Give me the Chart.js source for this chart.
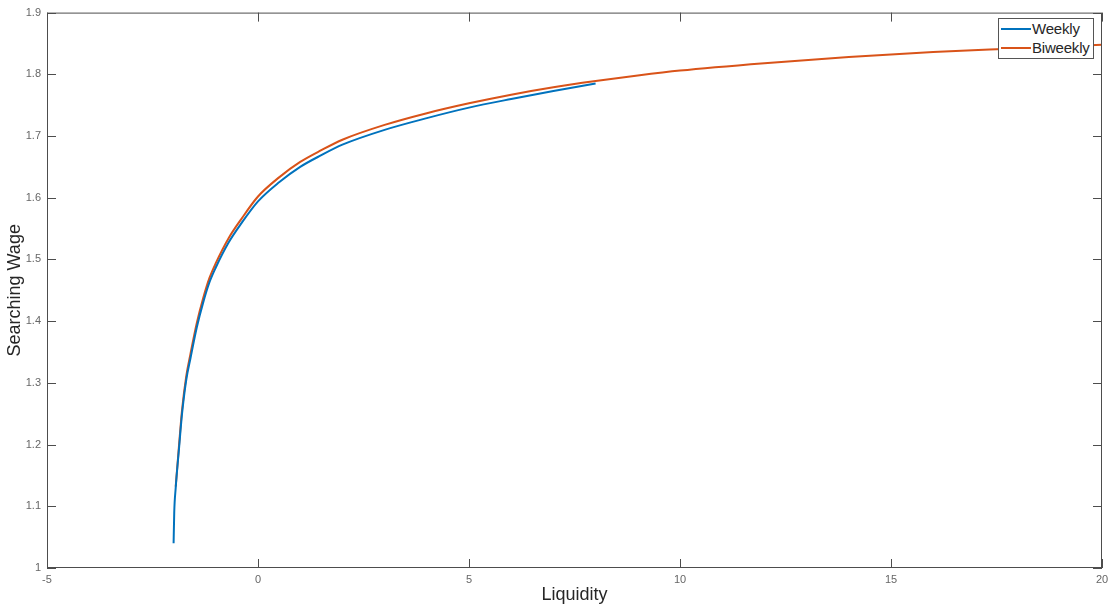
<!DOCTYPE html>
<html>
<head>
<meta charset="utf-8">
<script src="https://cdn.jsdelivr.net/npm/chart.js@4"></script>
<style>
  html, body { margin: 0; padding: 0; background: #fff; }
  #wrap { position: relative; width: 1117px; height: 610px; }
  #legend {
    position: absolute; left: 998px; top: 18px; width: 96px; height: 41px;
    background: #fff; border: 1px solid #555; box-sizing: border-box;
    font: 15px "Liberation Sans", Arial, sans-serif; color: #262626;
  }
  #legend div { position: relative; height: 19px; line-height: 19px; padding-left: 33px; letter-spacing: -0.2px; }
  #legend span { position: absolute; left: 2px; top: 9px; width: 30px; height: 2px; }
</style>
</head>
<body>
<div id="wrap">
  <canvas id="c" width="1117" height="610"></canvas>
  <div id="legend">
    <div><span style="background:#0072BD"></span>Weekly</div>
    <div><span style="background:#D95319"></span>Biweekly</div>
  </div>
</div>
<script>
const weeklyX = [-2.0, -1.985, -1.95, -1.87, -1.8, -1.7, -1.6, -1.45, -1.3, -1.15, -1.0, -0.7, -0.4, 0, 0.5, 1, 1.5, 2, 3, 4, 5, 6, 7, 8];
const weeklyY = [1.04, 1.09, 1.13, 1.195, 1.25, 1.305, 1.34, 1.39, 1.43, 1.463, 1.487, 1.527, 1.558, 1.594, 1.625, 1.65, 1.669, 1.686, 1.71, 1.729, 1.746, 1.76, 1.773, 1.785];

const biweeklyX = [-1.95, -1.87, -1.8, -1.7, -1.6, -1.45, -1.3, -1.15, -1.0, -0.7, -0.4, 0, 0.5, 1, 1.5, 2, 3, 4, 5, 6, 7, 8, 9, 10, 12, 14, 16, 18, 20];
const biweeklyY = [1.132, 1.2, 1.256, 1.311, 1.347, 1.397, 1.437, 1.47, 1.494, 1.534, 1.565, 1.602, 1.633, 1.658, 1.677, 1.694, 1.718, 1.737, 1.753, 1.767, 1.779, 1.789, 1.798, 1.806, 1.818, 1.828, 1.836, 1.842, 1.848];

const xMin = -5, xMax = 20, xStep = 5;
const yMin = 1, yMax = 1.9, yStep = 0.1;

const pts = (xs, ys) => xs.map((x, i) => ({x, y: ys[i]}));
const axisColor = "#4d4d4d";
const labelColor = "#666";
const font = "'Liberation Sans', Arial, sans-serif";

// MATLAB-style box with inward ticks
const boxPlugin = {
  id: "box",
  afterDraw(chart) {
    const {ctx, chartArea: a, scales} = chart;
    const len = 9;
    ctx.save();
    ctx.strokeStyle = axisColor;
    ctx.lineWidth = 1;
    ctx.strokeRect(a.left + 0.5, a.top + 0.5, a.right - a.left - 1, a.bottom - a.top - 1);
    ctx.beginPath();
    scales.x.ticks.forEach(t => {
      const px = Math.round(scales.x.getPixelForValue(t.value)) + 0.5;
      ctx.moveTo(px, a.bottom); ctx.lineTo(px, a.bottom - len);
      ctx.moveTo(px, a.top); ctx.lineTo(px, a.top + len);
    });
    scales.y.ticks.forEach(t => {
      const py = Math.round(scales.y.getPixelForValue(t.value)) + 0.5;
      ctx.moveTo(a.left, py); ctx.lineTo(a.left + len, py);
      ctx.moveTo(a.right, py); ctx.lineTo(a.right - len, py);
    });
    ctx.stroke();
    ctx.restore();
  }
};

new Chart(document.getElementById("c"), {
  type: "line",
  data: {
    datasets: [
      {label: "Weekly", data: pts(weeklyX, weeklyY), borderColor: "#0072BD", borderWidth: 2,
       pointRadius: 0, cubicInterpolationMode: "monotone", fill: false},
      {label: "Biweekly", data: pts(biweeklyX, biweeklyY), borderColor: "#D95319", borderWidth: 2,
       pointRadius: 0, cubicInterpolationMode: "monotone", fill: false},
    ],
  },
  options: {
    responsive: false,
    animation: false,
    layout: {padding: {top: 12, right: 15, left: 0, bottom: 0}},
    plugins: {legend: {display: false}, tooltip: {enabled: false}},
    scales: {
      x: {
        type: "linear", min: xMin, max: xMax,
        grid: {display: false, drawTicks: false},
        border: {display: false},
        ticks: {stepSize: xStep, color: labelColor, font: {family: font, size: 11}, padding: 5, maxRotation: 0},
        title: {display: true, text: "Liquidity", color: "#262626", font: {family: font, size: 18}, padding: {top: 1}},
        afterFit: s => { s.height = 42; },
      },
      y: {
        type: "linear", min: yMin, max: yMax,
        grid: {display: false, drawTicks: false},
        border: {display: false},
        ticks: {stepSize: yStep, color: labelColor, font: {family: font, size: 11}, padding: 6,
                callback: v => String(+v.toFixed(1))},
        title: {display: true, text: "Searching Wage", color: "#262626", font: {family: font, size: 18}, padding: {bottom: 2}},
        afterFit: s => { s.width = 47; },
      },
    },
  },
  plugins: [boxPlugin],
});
</script>
</body>
</html>
